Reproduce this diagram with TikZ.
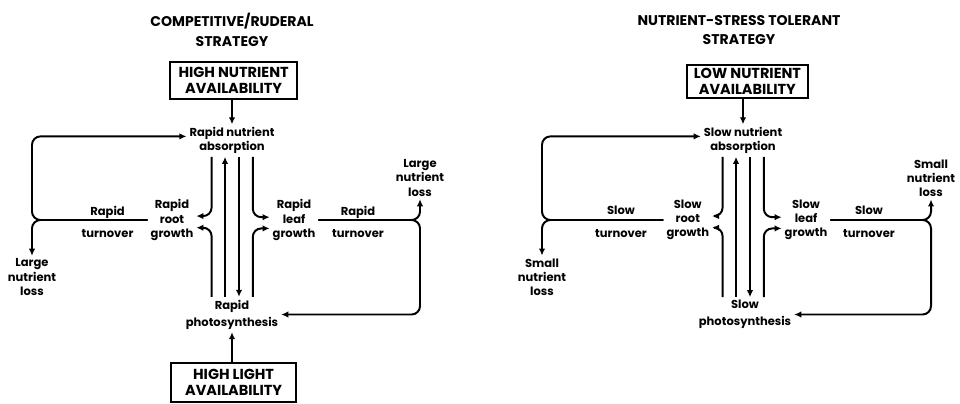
\documentclass[tikz,border=0pt]{standalone}
\usepackage{fontspec}
\setmainfont{Poppins}
\usetikzlibrary{arrows.meta}

\begin{document}
\begin{tikzpicture}[
		lbl/.style={font=\bfseries\fontsize{8.2}{10}\selectfont, align=center, inner sep=2pt},
		ttl/.style={font=\bfseries\fontsize{10}{14}\selectfont, align=center},
		bx/.style={draw, line width=1.3pt, font=\bfseries\fontsize{10.3}{11.5}\selectfont, align=center, inner sep=2pt},
		ln/.style={line width=1.4pt},
		arr/.style={ln, -{Latex[length=5pt,width=4.6pt]}},
		elbow/.style={arr, rounded corners=6pt}]
		%%%%% START %%%%%
		
		\useasboundingbox (0,0) rectangle (24,10.075);
		
		%%%%% LEFT: COMPETITIVE/RUDERAL %%%%%
		\node[ttl] (titleL) at (5.8, 9.325) {COMPETITIVE/RUDERAL\\STRATEGY};
		\node[bx, minimum width=3.175cm, minimum height=0.925cm] (nutL) at (5.84, 8.06) {HIGH NUTRIENT\\AVAILABILITY};
		\node[lbl] (absL) at (5.8, 6.56) {Rapid nutrient\\absorption};
		\node[lbl] (rootL) at (4.3, 4.575) {Rapid\\root\\growth};
		\node[lbl] (leafL) at (7.35, 4.575) {Rapid\\leaf\\growth};
		\node[lbl] (turnLa) at (2.69, 4.525) {Rapid\\[6pt]turnover};
		\node[lbl] (turnLb) at (8.95, 4.525) {Rapid\\[6pt]turnover};
		\node[lbl] (lossLa) at (0.8, 3.15) {Large\\nutrient\\loss};
		\node[lbl] (lossLb) at (10.5, 5.625) {Large\\nutrient\\loss};
		\node[lbl] (photoL) at (5.8, 2.2125) {Rapid\\[2pt]photosynthesis};
		\node[bx, minimum width=3.125cm, minimum height=0.975cm] (lightL) at (5.84, 0.5125) {HIGH LIGHT\\AVAILABILITY};
		
		\draw[arr] (nutL.south -| absL.north) -- (absL.north);
		\draw[arr] (lightL.north -| photoL.south) -- (photoL.south);
		
		\draw[elbow] (rootL.west) -- (rootL.west -| lossLa.north) |- ([yshift=3pt]absL.west);
		\draw[elbow] (rootL.west) -- (rootL.west -| lossLa.north) -- (lossLa.north);
		\draw[elbow] (leafL.east) -- (leafL.east -| lossLb.south) -- (lossLb.south);
		\draw[elbow] (leafL.east) -- (leafL.east -| lossLb.south) |- (photoL.east);
		
		\draw[elbow] ([xshift=-5.1mm]absL.south) |- ([yshift=2.8pt]rootL.east);
		\draw[elbow] ([xshift=-5.1mm]photoL.north) |- ([yshift=-5.5pt]rootL.east);
		\draw[arr] ([xshift=-1.75mm]photoL.north) -- ([xshift=-1.75mm]absL.south);
		\draw[arr] ([xshift=1.75mm]absL.south) -- ([xshift=1.75mm]photoL.north);
		\draw[elbow] ([xshift=5.2mm]absL.south) |- ([yshift=2pt]leafL.west);
		\draw[elbow] ([xshift=5.2mm]photoL.north) |- ([yshift=-6pt]leafL.west);
		
		%%%%% RIGHT: NUTRIENT-STRESS TOLERANT %%%%%
		\begin{scope}[xshift=12.775cm]
		\node[ttl] (titleR) at (5.7, 9.325) {NUTRIENT-STRESS TOLERANT\\STRATEGY};
		\node[bx, minimum width=3.025cm, minimum height=0.825cm] (nutR) at (5.91, 8.04) {LOW NUTRIENT\\AVAILABILITY};
		\node[lbl] (absR) at (5.8, 6.56) {Slow nutrient\\absorption};
		\node[lbl] (rootR) at (4.42, 4.575) {Slow\\root\\growth};
		\node[lbl] (leafR) at (7.375, 4.575) {Slow\\leaf\\growth};
		\node[lbl] (turnRa) at (2.75, 4.525) {Slow\\[6pt]turnover};
		\node[lbl] (turnRb) at (8.95, 4.525) {Slow\\[6pt]turnover};
		\node[lbl] (lossRa) at (0.775, 3.15) {Small\\nutrient\\loss};
		\node[lbl] (lossRb) at (10.5, 5.625) {Small\\nutrient\\loss};
		\node[lbl] (photoR) at (5.85, 2.2125) {Slow\\[2pt]photosynthesis};
		
		\draw[arr] (nutR.south -| absR.north) -- (absR.north);
		
		\draw[elbow] (rootR.west) -- (rootR.west -| lossRa.north) |- ([yshift=3pt]absR.west);
		\draw[elbow] (rootR.west) -- (rootR.west -| lossRa.north) -- (lossRa.north);
		\draw[elbow] (leafR.east) -- (leafR.east -| lossRb.south) -- (lossRb.south);
		\draw[elbow] (leafR.east) -- (leafR.east -| lossRb.south) |- (photoR.east);
		
		\draw[elbow] ([xshift=-5.1mm]absR.south) |- ([yshift=2.8pt]rootR.east);
		\draw[elbow] ([xshift=-5.1mm]absR.south |- photoR.north) |- ([yshift=-5.5pt]rootR.east);
		\draw[arr] ([xshift=-1.75mm]absR.south |- photoR.north) -- ([xshift=-1.75mm]absR.south);
		\draw[arr] ([xshift=1.75mm]absR.south) -- ([xshift=1.75mm]absR.south |- photoR.north);
		\draw[elbow] ([xshift=5.2mm]absR.south) |- ([yshift=2pt]leafR.west);
		\draw[elbow] ([xshift=5.2mm]absR.south |- photoR.north) |- ([yshift=-6pt]leafR.west);
		\end{scope}
		
		%%%%% END %%%%%
	\end{tikzpicture}
\end{document}
